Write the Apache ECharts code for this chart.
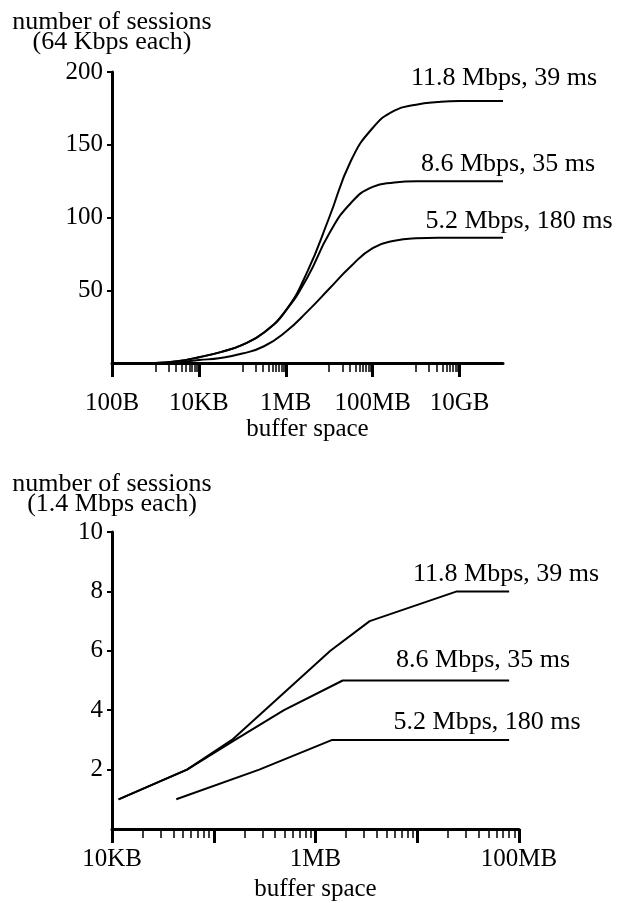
<!DOCTYPE html>
<html>
<head>
<meta charset="utf-8">
<script src="https://cdn.jsdelivr.net/npm/echarts@6/dist/echarts.min.js"></script>
<style>
  html, body { margin: 0; padding: 0; background: #fff; }
  #chart { width: 619px; height: 903px; }
</style>
</head>
<body>
<div id="chart"></div>
<script>
const FONT = '"Liberation Serif", "Times New Roman", serif'

const seriesNames = ['11.8 Mbps, 39 ms', '8.6 Mbps, 35 ms', '5.2 Mbps, 180 ms']

// top panel: sessions of 64 Kbps vs buffer space (bytes), read every half decade
const topSizes = [1e3, 3.16e3, 1e4, 3.16e4, 1e5, 3.16e5, 1e6, 3.16e6, 1e7, 3.16e7, 1e8, 3.16e8, 1e9, 3.16e9, 1e10, 3.16e10, 1e11]
const top118 = [0, 1.2, 4, 7.5, 12.5, 21, 36, 63, 100, 139, 161.5, 173.5, 177.5, 179.3, 180, 180, 180]
const top86 = [0, 1.2, 4, 7.5, 12.5, 21, 36, 59, 89, 110, 121, 124, 125, 125, 125, 125, 125]
const top52 = [0, 0.6, 2, 3.5, 6.5, 11.5, 21.5, 35.5, 51, 66.5, 79, 84, 85.7, 86, 86, 86, 86]
const topTickValues = [1e2, 1e4, 1e6, 1e8, 1e10]
const topTickLabels = ['100B', '10KB', '1MB', '100MB', '10GB']
const topMinorDecades = [3, 5, 7, 9]

// bottom panel: sessions of 1.4 Mbps vs buffer space (bytes)
const bot118Sizes = [1.16e4, 5.46e4, 1.51e5, 1.4e6, 3.41e6, 2.45e7, 8e7]
const bot118 = [1, 2, 3, 6, 7, 8, 8]
const bot86Sizes = [1.16e4, 5.46e4, 1.62e5, 4.9e5, 1.85e6, 8e7]
const bot86 = [1, 2, 3, 4, 5, 5]
const bot52Sizes = [4.28e4, 2.8e5, 1.46e6, 8e7]
const bot52 = [1, 2, 3, 3]
const botTickValues = [1e4, 1e6, 1e8]
const botTickLabels = ['10KB', '1MB', '100MB']
const botMajorTicks = [1e4, 1e5, 1e6, 1e7, 1e8]
const botMinorDecades = [4, 5, 6, 7]

function minorTicks(decades, withOne) {
  const out = []
  decades.forEach(d => {
    for (let m = withOne ? 1 : 2; m <= 9; m++) out.push(m * Math.pow(10, d))
  })
  return out
}

function labelFor(values, labels) {
  return v => {
    const i = values.findIndex(t => Math.abs(Math.log10(t) - Math.log10(v)) < 0.01)
    return i >= 0 ? labels[i] : ''
  }
}

const textBase = { color: '#000', fontFamily: FONT }

function logAxis(gridIndex, min, max, majorTicks, labelValues, labelTexts, labelMargin, nameGap) {
  return {
    type: 'log', logBase: 10, gridIndex, min, max, position: 'bottom',
    name: 'buffer space', nameLocation: 'middle', nameGap,
    nameTextStyle: { ...textBase, fontSize: 25, lineHeight: 25 },
    axisLine: { show: true, onZero: false, lineStyle: { color: '#000', width: 3 } },
    axisTick: { show: true, customValues: majorTicks, length: 14, lineStyle: { color: '#000', width: 3 } },
    axisLabel: {
      ...textBase, fontSize: 25, margin: labelMargin, customValues: labelValues,
      formatter: labelFor(labelValues, labelTexts)
    },
    splitLine: { show: false },
    minorTick: { show: false }
  }
}

function minorAxis(gridIndex, min, max, ticks) {
  return {
    type: 'log', logBase: 10, gridIndex, min, max, position: 'bottom',
    axisLine: { show: false, onZero: false },
    axisTick: { show: true, customValues: ticks, length: 9, lineStyle: { color: '#000', width: 1.5 } },
    axisLabel: { show: false },
    splitLine: { show: false }
  }
}

function valueAxis(gridIndex, max, interval, name, nameGap) {
  return {
    type: 'value', gridIndex, min: 0, max, interval,
    name, nameLocation: 'end', nameGap,
    nameTextStyle: { ...textBase, fontSize: 26, lineHeight: 20, align: 'center', verticalAlign: 'bottom' },
    axisLine: { show: true, lineStyle: { color: '#000', width: 3 } },
    axisTick: { show: true, length: 5, lineStyle: { color: '#000', width: 2 } },
    axisLabel: { ...textBase, fontSize: 25, margin: 9, showMinLabel: false },
    splitLine: { show: false }
  }
}

function lineSeries(name, sizes, values, xIdx, yIdx, smooth, offset) {
  const data = sizes.map((s, i) => [s, values[i]])
  return {
    name, type: 'line', xAxisIndex: xIdx, yAxisIndex: yIdx,
    data, smooth, showSymbol: false, symbol: 'none', silent: true,
    lineStyle: { color: '#000', width: 2 },
    markPoint: {
      symbol: 'circle', symbolSize: 0, silent: true,
      label: { show: true, position: 'inside', formatter: name, ...textBase, fontSize: 26, offset },
      data: [{ coord: data[data.length - 1] }]
    }
  }
}

const chart = echarts.init(document.getElementById('chart'), null, { renderer: 'canvas' })

chart.setOption({
  animation: false,
  backgroundColor: '#fff',
  grid: [
    { left: 112, top: 72, width: 391, height: 291 },
    { left: 112, top: 532, width: 407, height: 302 }
  ],
  xAxis: [
    logAxis(0, 1e2, 1e11, topTickValues, topTickValues, topTickLabels, 28, 44),
    minorAxis(0, 1e2, 1e11, minorTicks(topMinorDecades, true)),
    logAxis(1, 1e4, 1e8, botMajorTicks, botTickValues, botTickLabels, 18, 48),
    minorAxis(1, 1e4, 1e8, minorTicks(botMinorDecades, false))
  ],
  yAxis: [
    valueAxis(0, 200, 50, 'number of sessions\n(64 Kbps each)', 20),
    valueAxis(1, 10, 2, 'number of sessions\n(1.4 Mbps each)', 18)
  ],
  series: [
    lineSeries(seriesNames[0], topSizes, top118, 0, 0, 0.5, [1, -23]),
    lineSeries(seriesNames[1], topSizes, top86, 0, 0, 0.5, [5, -17]),
    lineSeries(seriesNames[2], topSizes, top52, 0, 0, 0.5, [16, -17]),
    lineSeries(seriesNames[0], bot118Sizes, bot118, 2, 1, false, [-3, -17]),
    lineSeries(seriesNames[1], bot86Sizes, bot86, 2, 1, false, [-26, -20]),
    lineSeries(seriesNames[2], bot52Sizes, bot52, 2, 1, false, [-22, -18])
  ]
})
</script>
</body>
</html>
